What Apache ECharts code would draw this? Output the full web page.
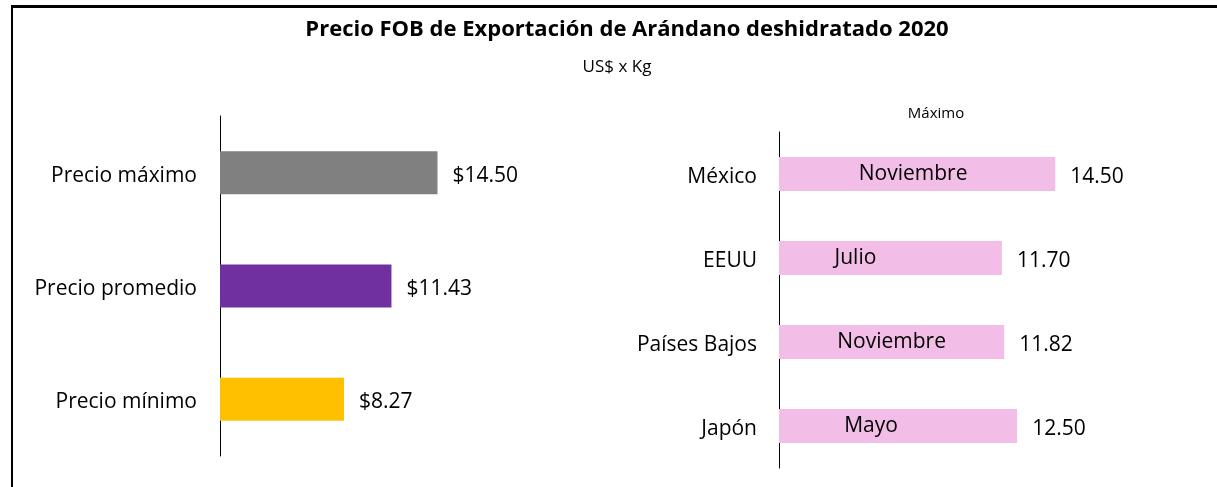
<!DOCTYPE html>
<html>
<head>
<meta charset="utf-8">
<script src="https://cdn.jsdelivr.net/npm/echarts@6/dist/echarts.min.js"></script>
<style>
  html, body { margin: 0; padding: 0; background: #fff; }
  #chart { width: 1217px; height: 487px; }
  /* marco del gráfico (solo arriba e izquierda visibles) */
  .frame {
    position: absolute; left: 11px; top: 5px; width: 1220px; height: 500px;
    border-top: 3px solid #000; border-left: 2px solid #000;
    pointer-events: none;
  }
</style>
</head>
<body>
<div id="chart"></div>
<div class="frame"></div>
<script>
// Precios resumen
const priceLabels = ['Precio máximo', 'Precio promedio', 'Precio mínimo']
const priceValues = [14.50, 11.43, 8.27]
const priceColors = ['#808080', '#7030A0', '#FFC000']

// Máximo por país
const countries = ['México', 'EEUU', 'Países Bajos', 'Japón']
const countryMax = [14.50, 11.70, 11.82, 12.50]
const countryMonths = ['Noviembre', 'Julio', 'Noviembre', 'Mayo']

const FONT = 'Open Sans'
const chart = echarts.init(document.getElementById('chart'))

// posición horizontal de los textos de mes dentro de la barra
const monthShift = [-4, -35, 0, -27]

// etiqueta de categoría un poco más abajo del centro de la barra
const catLabel = (margin, drop) => ({
  color: '#000', fontSize: 21, margin, fontFamily: FONT,
  formatter: v => '{c|' + v + '}',
  rich: { c: { fontSize: 21, color: '#000', fontFamily: FONT, padding: [drop, 0, 0, 0] } }
})

chart.setOption({
  animation: false,
  textStyle: { fontFamily: FONT },
  title: [
    {
      text: 'Precio FOB de Exportación de Arándano deshidratado 2020',
      left: 622, top: 14, textAlign: 'center',
      textStyle: { fontSize: 22, fontWeight: 'bold', color: '#000', fontFamily: FONT }
    },
    {
      text: 'US$ x Kg',
      left: 612, top: 54, textAlign: 'center',
      textStyle: { fontSize: 17, fontWeight: 'normal', color: '#000', fontFamily: FONT }
    },
    {
      text: 'Máximo',
      left: 931, top: 101, textAlign: 'center',
      textStyle: { fontSize: 15, fontWeight: 'normal', color: '#000', fontFamily: FONT }
    }
  ],
  grid: [
    { left: 220, top: 116, width: 300, height: 340 },
    { left: 779, top: 132, width: 381, height: 336 }
  ],
  xAxis: [
    { gridIndex: 0, type: 'value', min: 0, max: 20, show: false },
    { gridIndex: 1, type: 'value', min: 0, max: 20, show: false }
  ],
  yAxis: [
    {
      gridIndex: 0, type: 'category', inverse: true, data: priceLabels,
      axisLine: { lineStyle: { color: '#000', width: 1 } },
      axisTick: { show: false },
      axisLabel: catLabel(23, 6)
    },
    {
      gridIndex: 1, type: 'category', inverse: true, data: countries,
      axisLine: { lineStyle: { color: '#000', width: 1 } },
      axisTick: { show: false },
      axisLabel: catLabel(22, 7)
    }
  ],
  series: [
    {
      type: 'bar',
      xAxisIndex: 0, yAxisIndex: 0,
      barWidth: 43,
      data: priceValues.map((v, i) => ({ value: v, itemStyle: { color: priceColors[i] } })),
      label: {
        show: true, position: 'right', distance: 15, offset: [0, 3],
        color: '#000', fontSize: 21, fontFamily: FONT,
        formatter: p => '$' + p.value.toFixed(2)
      }
    },
    {
      type: 'bar',
      xAxisIndex: 1, yAxisIndex: 1,
      barWidth: 34,
      itemStyle: { color: '#F2BDE6' },
      data: countryMax,
      label: {
        show: true, position: 'right', distance: 15, offset: [0, 3],
        color: '#000', fontSize: 21, fontFamily: FONT,
        formatter: p => p.value.toFixed(2)
      }
    },
    {
      // textos de mes sobre las barras rosadas
      type: 'bar',
      xAxisIndex: 1, yAxisIndex: 1,
      barWidth: 34,
      barGap: '-100%',
      itemStyle: { color: 'transparent' },
      silent: true,
      data: countryMax.map((v, i) => ({
        value: v,
        label: { offset: [monthShift[i], 0] }
      })),
      label: {
        show: true, position: 'inside',
        color: '#000', fontSize: 21, fontFamily: FONT,
        formatter: p => countryMonths[p.dataIndex]
      }
    }
  ]
})
</script>
</body>
</html>
